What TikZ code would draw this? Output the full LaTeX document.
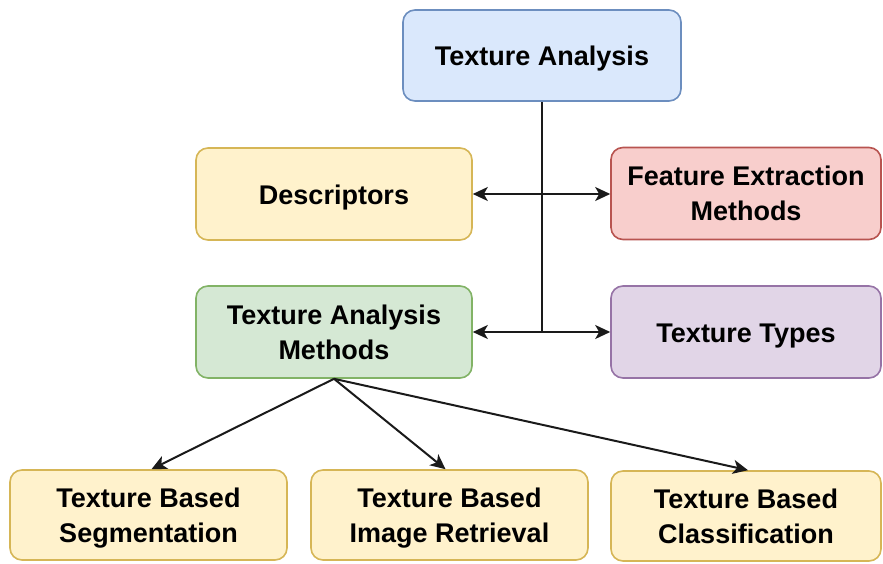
\documentclass[tikz,border=0pt]{standalone}
\usepackage{fontspec}
\setmainfont{Liberation Sans}
\usetikzlibrary{arrows.meta}
\definecolor{blueF}{HTML}{DAE8FC}\definecolor{blueS}{HTML}{6C8EBF}
\definecolor{yelF}{HTML}{FFF2CC}\definecolor{yelS}{HTML}{D6B656}
\definecolor{redF}{HTML}{F8CECC}\definecolor{redS}{HTML}{B85450}
\definecolor{grnF}{HTML}{D5E8D4}\definecolor{grnS}{HTML}{82B366}
\definecolor{purF}{HTML}{E1D5E7}\definecolor{purS}{HTML}{9673A6}
\definecolor{lineC}{HTML}{1A1A1A}
\begin{document}
\begin{tikzpicture}[x=1pt,y=-1pt,
  box/.style={draw, rounded corners=12pt, line width=1.6pt, align=center,
    inner sep=0pt, text=black,
    font=\bfseries\fontsize{27}{35}\selectfont},
  oneline/.style={text height=26pt},
  wide/.style={minimum width=276pt, minimum height=92pt},
  narrow/.style={minimum width=270pt, minimum height=92pt},
  low/.style={minimum height=90pt, text depth=0pt},
  link/.style={draw=lineC, line width=2pt},
  arr/.style={link, -{Stealth[length=15pt, width=14pt, inset=4pt]}}]
\useasboundingbox (0,0) rectangle (883,564);
\fill[white] (0,0) rectangle (883,564);

% top level
\node[box, oneline, fill=blueF, draw=blueS, minimum width=278pt, minimum height=91pt]
  (ta) at (542,55.5) {Texture Analysis};

% middle rows
\node[box, oneline, wide, fill=yelF, draw=yelS] (desc) at (334,194) {Descriptors};
\node[box, narrow, fill=redF, draw=redS] (fem) at (746,193.5) {Feature Extraction\\Methods};
\node[box, wide, fill=grnF, draw=grnS] (tam) at (334,332) {Texture Analysis\\Methods};
\node[box, oneline, narrow, fill=purF, draw=purS] (tt) at (746,332) {Texture Types};

% applications
\node[box, low, minimum width=277pt, fill=yelF, draw=yelS] (seg) at (148.5,515) {Texture Based\\Segmentation};
\node[box, low, minimum width=277pt, fill=yelF, draw=yelS] (ir) at (449.5,515) {Texture Based\\Image Retrieval};
\node[box, low, minimum width=270pt, fill=yelF, draw=yelS] (cls) at (746,516) {Texture Based\\Classification};

% trunk with branches
\coordinate (j1) at (ta.south |- desc.east);
\coordinate (j2) at (ta.south |- tam.east);
\draw[link] (ta.south) -- (j2);
\draw[arr] (j1) -- (desc.east);
\draw[arr] (j1) -- (fem.west |- j1);
\draw[arr] (j2) -- (tam.east);
\draw[arr] (j2) -- (tt.west);

% methods to applications
\draw[arr] (tam.south) -- ([xshift=3pt]seg.north);
\draw[arr] (tam.south) -- ([xshift=-4pt]ir.north);
\draw[arr] (tam.south) -- ([xshift=2pt]cls.north);
\end{tikzpicture}
\end{document}
